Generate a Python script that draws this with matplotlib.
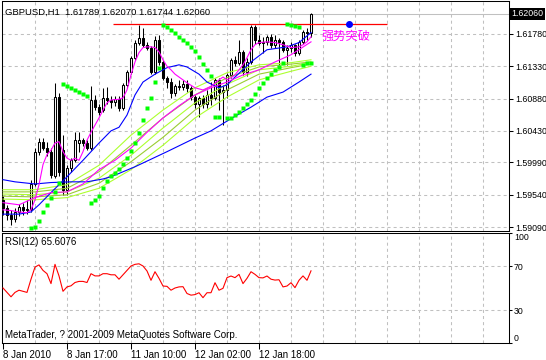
import numpy as np
import matplotlib
matplotlib.use("Agg")
import matplotlib.pyplot as plt
from matplotlib.transforms import blended_transform_factory

plt.rcParams["font.family"] = ["Liberation Sans", "DejaVu Sans"]
plt.rcParams["lines.scale_dashes"] = False

# GBPUSD H1 bars, index 0 = first bar on screen
opens = [1.5947, 1.5936, 1.5926, 1.5920, 1.5930, 1.5937, 1.5933, 1.5934, 1.5969, 1.6014,
         1.6028, 1.6019, 1.6014, 1.5980, 1.6090, 1.6016, 1.5961, 1.5991, 1.6002, 1.6026,
         1.6030, 1.6026, 1.6019, 1.6086, 1.6076, 1.6072, 1.6089, 1.6086, 1.6083, 1.6087,
         1.6075, 1.6107, 1.6125, 1.6145, 1.6166, 1.6172, 1.6163, 1.6159, 1.6125, 1.6170,
         1.6139, 1.6117, 1.6111, 1.6096, 1.6106, 1.6104, 1.6108, 1.6103, 1.6090, 1.6081,
         1.6089, 1.6081, 1.6093, 1.6089, 1.6114, 1.6097, 1.6100, 1.6121, 1.6142, 1.6138,
         1.6153, 1.6125, 1.6139, 1.6188, 1.6170, 1.6166, 1.6167, 1.6174, 1.6163, 1.6170,
         1.6167, 1.6156, 1.6159, 1.6163, 1.6152, 1.6167, 1.6181, 1.61789]
highs = [1.5952, 1.5940, 1.5933, 1.5936, 1.5941, 1.5943, 1.5947, 1.5975, 1.6019, 1.6033,
         1.6033, 1.6028, 1.6019, 1.6110, 1.6096, 1.6037, 1.5995, 1.6005, 1.6041, 1.6041,
         1.6033, 1.6030, 1.6106, 1.6093, 1.6081, 1.6103, 1.6104, 1.6092, 1.6092, 1.6092,
         1.6110, 1.6128, 1.6147, 1.6170, 1.6190, 1.6186, 1.6167, 1.6161, 1.6175, 1.6177,
         1.6142, 1.6120, 1.6117, 1.6108, 1.6114, 1.6114, 1.6114, 1.6106, 1.6093, 1.6092,
         1.6093, 1.6100, 1.6111, 1.6117, 1.6117, 1.6107, 1.6124, 1.6145, 1.6147, 1.6170,
         1.6156, 1.6145, 1.6190, 1.6190, 1.6177, 1.6174, 1.6177, 1.6178, 1.6177, 1.6172,
         1.6170, 1.6163, 1.6167, 1.6164, 1.6170, 1.6184, 1.6186, 1.62070]
lows = [1.5926, 1.5919, 1.5912, 1.5916, 1.5924, 1.5926, 1.5927, 1.5930, 1.5966, 1.6009,
        1.6016, 1.6008, 1.5977, 1.5977, 1.5980, 1.5954, 1.5954, 1.5986, 1.6000, 1.6014,
        1.6022, 1.6016, 1.6016, 1.6072, 1.6065, 1.6069, 1.6080, 1.6075, 1.6078, 1.6071,
        1.6072, 1.6103, 1.6122, 1.6142, 1.6163, 1.6160, 1.6156, 1.6122, 1.6122, 1.6135,
        1.6114, 1.6103, 1.6089, 1.6092, 1.6100, 1.6100, 1.6097, 1.6086, 1.6075, 1.6062,
        1.6075, 1.6075, 1.6079, 1.6086, 1.6072, 1.6051, 1.6089, 1.6117, 1.6133, 1.6135,
        1.6121, 1.6120, 1.6136, 1.6164, 1.6163, 1.6152, 1.6163, 1.6159, 1.6159, 1.6135,
        1.6153, 1.6135, 1.6153, 1.6147, 1.6149, 1.6164, 1.6170, 1.61744]
closes = [1.5936, 1.5926, 1.5920, 1.5930, 1.5937, 1.5933, 1.5934, 1.5969, 1.6014, 1.6028,
          1.6019, 1.6014, 1.5981, 1.6090, 1.5986, 1.5961, 1.5991, 1.6002, 1.6030, 1.6030,
          1.6026, 1.6019, 1.6086, 1.6076, 1.6069, 1.6089, 1.6086, 1.6083, 1.6087, 1.6075,
          1.6107, 1.6125, 1.6145, 1.6166, 1.6172, 1.6163, 1.6159, 1.6125, 1.6170, 1.6139,
          1.6117, 1.6111, 1.6096, 1.6106, 1.6104, 1.6108, 1.6103, 1.6090, 1.6081, 1.6089,
          1.6081, 1.6093, 1.6089, 1.6114, 1.6097, 1.6100, 1.6121, 1.6142, 1.6138, 1.6153,
          1.6125, 1.6139, 1.6188, 1.6170, 1.6166, 1.6167, 1.6174, 1.6163, 1.6170, 1.6167,
          1.6156, 1.6159, 1.6163, 1.6152, 1.6167, 1.6181, 1.6179, 1.62060]

nan = np.nan
sar = [nan, nan, nan, nan, nan, nan, nan, 1.5908, 1.5909, 1.5917,
       1.5930, 1.5940, 1.5949, 1.5958, 1.5971, 1.6108, 1.6105, 1.6103, 1.6100, 1.6097,
       1.6094, 1.6092, 1.5943, 1.5947, 1.5952, 1.5963, 1.5973, 1.5980, 1.5984, 1.5990,
       1.5997, 1.6005, 1.6015, 1.6026, 1.6040, 1.6058, 1.6075, 1.6089, 1.6111, 1.6131,
       1.6190, 1.6188, 1.6183, 1.6179, 1.6174, 1.6170, 1.6165, 1.6160, 1.6154, 1.6146,
       1.6136, 1.6128, 1.6119, 1.6062, 1.6062, nan, 1.6061, 1.6061, 1.6065, 1.6069,
       1.6075, 1.6081, 1.6086, 1.6094, 1.6103, 1.6110, 1.6117, 1.6122, 1.6128, 1.6132,
       1.6138, 1.6192, 1.6190, 1.6189, 1.6188, 1.6135, 1.6138, 1.6138]

rsi = [50, 46, 42, 46, 48, 47, 46, 58, 69, 71,
       66, 63, 54, 71.5, 61, 47, 51, 52, 55, 56,
       56, 55, 63, 61, 61, 63, 63, 62, 62, 58,
       62, 66, 70, 71.5, 72, 70, 65.5, 57, 64.8, 58.8,
       51.8, 51.5, 48, 50, 51, 51.2, 45, 43.5, 44, 45.7,
       41.2, 45.7, 45.7, 54.8, 48, 49.7, 59.4, 60.9, 59.4, 62.4,
       54, 58.8, 64.8, 62.4, 59.4, 59.2, 60.9, 58, 57.2, 57.5,
       51, 51.8, 54.8, 50.3, 57, 61, 57, 65.6076]

# moving averages at these bars
fast_ma_bars = [0, 2, 4, 6, 7, 8, 9, 10, 11, 12, 13, 14, 15, 16, 17, 18, 19, 20, 21, 22,
                23, 24, 25, 26, 27, 29, 30, 31, 32, 33, 34, 35, 36, 37, 38, 39, 40, 41, 42, 43,
                44, 46, 48, 50, 52, 54, 55, 56, 57, 58, 59, 60, 61, 62, 63, 64, 66, 68, 70, 72,
                74, 75, 76, 77]
fast_ma = [1.5933, 1.5932, 1.5930, 1.5929, 1.5933, 1.5947, 1.5968, 1.5996, 1.6010, 1.6016,
           1.6026, 1.6028, 1.6014, 1.6005, 1.6002, 1.6005, 1.6002, 1.6014, 1.6030, 1.6041,
           1.6051, 1.6061, 1.6072, 1.6082, 1.6086, 1.6087, 1.6089, 1.6100, 1.6121, 1.6139,
           1.6152, 1.6159, 1.6160, 1.6160, 1.6159, 1.6153, 1.6142, 1.6133, 1.6128, 1.6122,
           1.6118, 1.6110, 1.6103, 1.6100, 1.6105, 1.6114, 1.6118, 1.6114, 1.6117, 1.6121,
           1.6128, 1.6135, 1.6145, 1.6156, 1.6163, 1.6166, 1.6167, 1.6166, 1.6163, 1.6159,
           1.6160, 1.6163, 1.6167, 1.6174]
slow_ma_bars = [0, 4, 8, 12, 16, 20, 24, 28, 32, 36, 40, 44, 48, 52, 56, 60, 64, 68, 72, 77]
slow_ma = [1.5943, 1.5940, 1.5950, 1.5957, 1.5958, 1.5969, 1.5989, 1.6002, 1.6019, 1.6041,
           1.6061, 1.6078, 1.6093, 1.6103, 1.6111, 1.6121, 1.6128, 1.6139, 1.6149, 1.6167]
blue_fast_bars = [0, 4, 7, 9, 12, 16, 20, 24, 27, 29, 31, 33, 35, 38, 41, 44, 46, 49, 51, 54,
                  56, 58, 62, 66, 71, 74, 77]
blue_fast = [1.5927, 1.5927, 1.5930, 1.5940, 1.5957, 1.5979, 1.6002, 1.6026, 1.6043, 1.6048,
             1.6065, 1.6093, 1.6111, 1.6122, 1.6131, 1.6135, 1.6132, 1.6122, 1.6111, 1.6103,
             1.6107, 1.6118, 1.6139, 1.6156, 1.6160, 1.6166, 1.6180]
blue_slow_bars = [0, 3, 8, 12, 17, 21, 25, 27, 33, 41, 48, 52, 57, 62, 66, 70, 74, 77]
blue_slow = [1.5975, 1.5972, 1.5969, 1.5971, 1.5972, 1.5972, 1.5976, 1.5979, 1.5993, 1.6014,
             1.6033, 1.6043, 1.6060, 1.6076, 1.6090, 1.6097, 1.6111, 1.6122]
ribbon_bars = [0, 8, 16, 24, 32, 40, 48, 56, 64, 72, 77]
ribbon = [
    [1.5961, 1.5961, 1.5968, 1.5995, 1.6037, 1.6072, 1.6103, 1.6124, 1.6135, 1.6138, 1.6142],
    [1.5958, 1.5958, 1.5963, 1.5986, 1.6023, 1.6061, 1.6093, 1.6117, 1.6132, 1.6136, 1.6139],
    [1.5955, 1.5954, 1.5958, 1.5977, 1.6009, 1.6047, 1.6082, 1.6108, 1.6128, 1.6133, 1.6138],
    [1.5952, 1.5951, 1.5954, 1.5970, 1.6000, 1.6034, 1.6072, 1.6100, 1.6122, 1.6131, 1.6136],
    [1.5948, 1.5947, 1.5950, 1.5963, 1.5989, 1.6023, 1.6061, 1.6090, 1.6114, 1.6126, 1.6133],
]
ribbon_colors = ["#ADFF2F", "#9ACD32", "#ADFF2F", "#9ACD32", "#ADFF2F"]

price_ticks = [1.59090, 1.59540, 1.59990, 1.60430, 1.60880, 1.61330, 1.61780]
date_ticks = [0, 16, 32, 48, 64]
date_labels = ["8 Jan 2010", "8 Jan 17:00", "11 Jan 10:00", "12 Jan 02:00", "12 Jan 18:00"]

break_level = 1.6192
break_span = (27.5, 96)
break_dot = 86.5
break_note = "强势突破"

GRID = "#C0C0C0"
DASH = (0, (2.2, 2.2))
W, H = 546, 360


def px_rect(x0, y0, x1, y1):
    return [x0 / W, 1 - y1 / H, (x1 - x0) / W, (y1 - y0) / H]


fig = plt.figure(figsize=(W / 100, H / 100), dpi=100)
ax = fig.add_axes(px_rect(2, 1, 509, 231))
rsi_ax = fig.add_axes(px_rect(2, 233, 509, 343))

xlim = (-0.25, 126.5)
grid_x = np.arange(8, 127, 8)

# ---- price panel
ax.set_xlim(*xlim)
ax.set_ylim(1.59035, 1.62239)
for gx in grid_x:
    ax.axvline(gx, color=GRID, lw=0.75, ls=DASH, zorder=0)
for gy in price_ticks:
    ax.axhline(gy, color=GRID, lw=0.75, ls=DASH, zorder=0)
ax.axhline(closes[-1], color=GRID, lw=0.75, zorder=0.5)

idx = np.arange(len(closes))
o = np.array(opens)
c = np.array(closes)
up = c >= o
ax.vlines(idx, lows, highs, color="black", lw=0.75, zorder=2)
ax.bar(idx, np.abs(c - o), bottom=np.minimum(o, c), width=0.55,
       color=np.where(up, "white", "black"), edgecolor="black", linewidth=0.75, zorder=2.5)

for vals, col in zip(ribbon, ribbon_colors):
    ax.plot(ribbon_bars, vals, color=col, lw=0.8, zorder=3)
ax.plot(blue_slow_bars, blue_slow, color="#0000FF", lw=0.8, zorder=3)
ax.plot(blue_fast_bars, blue_fast, color="#0000FF", lw=0.8, zorder=3)
ax.plot(slow_ma_bars, slow_ma, color="#FF00FF", lw=0.8, zorder=3)
ax.plot(fast_ma_bars, fast_ma, color="#FF00FF", lw=0.8, zorder=3)
ax.plot(idx, sar, "s", color="#00FF00", ms=2.8, mec="none", zorder=4)

ax.hlines(break_level, *break_span, color="#FF0000", lw=0.9, zorder=3.5)
ax.plot([break_dot], [break_level], "o", color="#0000FF", ms=4, zorder=4)
ax.text(79.7, 1.6174, break_note, color="#FF00FF", fontsize=8.8,
        family=["Noto Sans CJK SC", "DejaVu Sans"], ha="left", va="center")

ax.set_xticks(grid_x)
ax.tick_params(axis="x", length=0, labelbottom=False)
ax.yaxis.tick_right()
ax.set_yticks(price_ticks)
ax.set_yticklabels([f"{v:.5f}" for v in price_ticks])
ax.tick_params(axis="y", length=3, width=0.75, pad=1.5, labelsize=6.3)
trans = blended_transform_factory(ax.transAxes, ax.transData)
ax.text(1.004, closes[-1], f"{closes[-1]:.5f}", transform=trans, color="white",
        fontsize=6.3, ha="left", va="center",
        bbox=dict(boxstyle="square,pad=0.2", fc="black", ec="none"))
for sp in ax.spines.values():
    sp.set_linewidth(0.75)

fig.text(5 / W, 1 - 12 / H, "GBPUSD,H1  1.61789 1.62070 1.61744 1.62060",
         fontsize=6.8, ha="left", va="center")

# ---- RSI panel
rsi_ax.set_xlim(*xlim)
rsi_ax.set_ylim(0, 100)
for gx in grid_x:
    rsi_ax.axvline(gx, color=GRID, lw=0.75, ls=DASH, zorder=0)
for lvl in (30, 70):
    rsi_ax.axhline(lvl, color=GRID, lw=0.75, ls=DASH, zorder=0)
rsi_ax.plot(idx, rsi, color="#FF0000", lw=0.8, zorder=3)

rsi_ax.yaxis.tick_right()
rsi_ax.set_yticks([0, 30, 70, 100])
rsi_ax.set_yticklabels(["0", "30", "70", "100"])
rsi_ax.tick_params(axis="y", length=2, width=0.75, pad=1.5, labelsize=6.3)
ylbl = rsi_ax.get_yticklabels()
ylbl[0].set_va("bottom")
ylbl[-1].set_va("top")

rsi_ax.set_xticks(date_ticks)
rsi_ax.set_xticklabels(date_labels)
rsi_ax.tick_params(axis="x", length=4, width=0.75, pad=1, labelsize=7)
for lbl in rsi_ax.get_xticklabels():
    lbl.set_ha("left")
for sp in rsi_ax.spines.values():
    sp.set_linewidth(0.75)

fig.text(5 / W, 1 - 242 / H, "RSI(12) 65.6076", fontsize=7, ha="left", va="center")
fig.text(5 / W, 1 - 335 / H, "MetaTrader, ? 2001-2009 MetaQuotes Software Corp.",
         fontsize=7, ha="left", va="center")

fig.savefig("out.png", dpi=100, facecolor="white")
